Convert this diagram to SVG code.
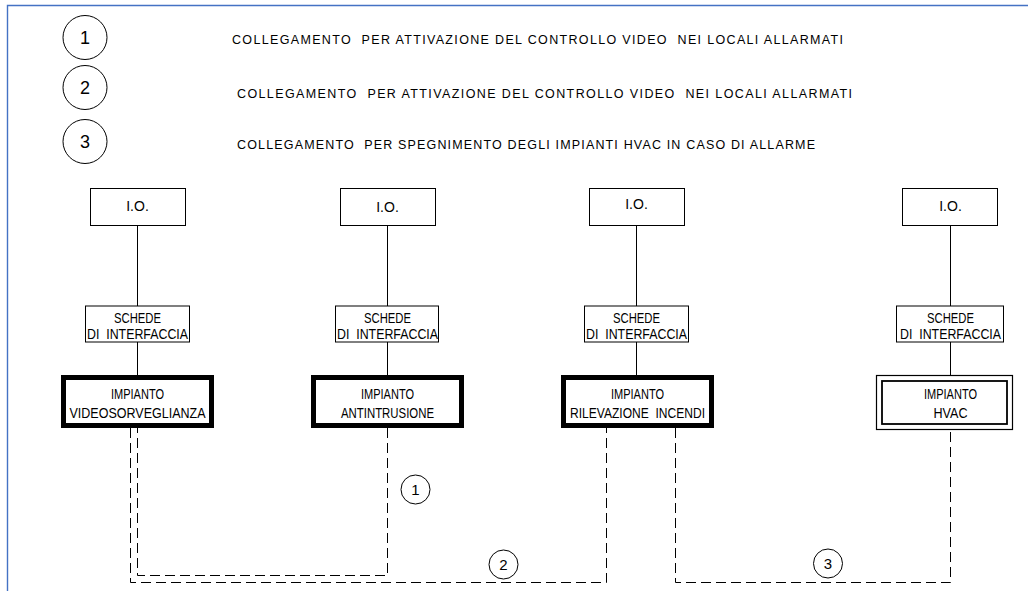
<svg xmlns="http://www.w3.org/2000/svg" width="1028" height="591" viewBox="0 0 1028 591">
<style>
.frame{fill:none;stroke:#4472C4;stroke-width:1.4}
.box{fill:#fff;stroke:#000;stroke-width:1}
.thick{fill:#fff;stroke:#000;stroke-width:5}
.dbl{fill:#fff;stroke:#000;stroke-width:1.2}
.dbl2{fill:none;stroke:#000;stroke-width:1.8}
.wire{stroke:#000;stroke-width:1;fill:none}
.dash{stroke:#000;stroke-width:1;fill:none;stroke-dasharray:10 5}
.circ{fill:#fff;stroke:#000;stroke-width:1}
.leg{font-family:"Liberation Sans",Arial,sans-serif;font-size:12.5px;fill:#000}
.lbl{font-family:"Liberation Sans",Arial,sans-serif;font-size:14px;fill:#000;text-anchor:middle}
.num{font-family:"Liberation Sans",Arial,sans-serif;fill:#000;text-anchor:middle}
</style>
<rect width="1028" height="591" fill="#fff"/>
<path class="frame" d="M7.5,591 V5.5 H1028"/>

<g id="legend">
  <circle class="circ" cx="85" cy="37.5" r="22"/>
  <text class="num" x="85" y="44" font-size="18">1</text>
  <circle class="circ" cx="85" cy="87.5" r="22"/>
  <text class="num" x="85" y="94" font-size="18">2</text>
  <circle class="circ" cx="85" cy="141.5" r="22"/>
  <text class="num" x="85" y="148" font-size="18">3</text>
  <text class="leg" x="232" y="44" textLength="611" lengthAdjust="spacing" xml:space="preserve">COLLEGAMENTO  PER ATTIVAZIONE DEL CONTROLLO VIDEO  NEI LOCALI ALLARMATI</text>
  <text class="leg" x="237" y="98" textLength="615" lengthAdjust="spacing" xml:space="preserve">COLLEGAMENTO  PER ATTIVAZIONE DEL CONTROLLO VIDEO  NEI LOCALI ALLARMATI</text>
  <text class="leg" x="237" y="149" textLength="578" lengthAdjust="spacing" xml:space="preserve">COLLEGAMENTO  PER SPEGNIMENTO DEGLI IMPIANTI HVAC IN CASO DI ALLARME</text>
</g>

<g id="connectors">
  <line class="wire" x1="137.5" y1="225" x2="137.5" y2="306"/>
  <line class="wire" x1="137.5" y1="342" x2="137.5" y2="375"/>
  <line class="wire" x1="387.5" y1="225" x2="387.5" y2="306"/>
  <line class="wire" x1="387.5" y1="342" x2="387.5" y2="375"/>
  <line class="wire" x1="636.5" y1="225" x2="636.5" y2="306"/>
  <line class="wire" x1="636.5" y1="342" x2="636.5" y2="375"/>
  <line class="wire" x1="950.5" y1="225" x2="950.5" y2="306"/>
  <line class="wire" x1="950.5" y1="342" x2="950.5" y2="375"/>
  <path class="dash" d="M387.5,428 V575.5 H137.5 V428"/>
  <path class="dash" d="M130.5,428 V582.5 H606.5 V428"/>
  <path class="dash" d="M675.5,428 V582.5 H950.5 V428"/>
  <circle class="circ" cx="415.5" cy="489.5" r="14.5"/>
  <text class="num" x="415.5" y="495" font-size="15">1</text>
  <circle class="circ" cx="503.5" cy="564.5" r="14.5"/>
  <text class="num" x="503.5" y="570" font-size="15">2</text>
  <circle class="circ" cx="828" cy="563.5" r="14.5"/>
  <text class="num" x="828" y="569" font-size="15">3</text>
</g>

<g id="io1"><rect class="box" x="90.5" y="188.5" width="95" height="37"/><text class="lbl" x="137.5" y="211">I.O.</text></g>
<g id="io2"><rect class="box" x="340.5" y="188.5" width="95" height="37"/><text class="lbl" x="387.5" y="211.5">I.O.</text></g>
<g id="io3"><rect class="box" x="589.5" y="188.5" width="95" height="37"/><text class="lbl" x="636.5" y="209" font-size="10">I.O.</text></g>
<g id="io4"><rect class="box" x="902.5" y="188.5" width="95" height="37"/><text class="lbl" x="950.5" y="211">I.O.</text></g>

<g id="sch1"><rect class="box" x="85.5" y="306" width="104" height="36"/>
  <text class="lbl" x="137.5" y="322.5" textLength="47" lengthAdjust="spacingAndGlyphs">SCHEDE</text>
  <text class="lbl" x="137.5" y="338.5" textLength="101" lengthAdjust="spacingAndGlyphs" xml:space="preserve">DI  INTERFACCIA</text></g>
<g id="sch2"><rect class="box" x="335.5" y="306" width="103" height="36"/>
  <text class="lbl" x="387.5" y="322.5" textLength="47" lengthAdjust="spacingAndGlyphs">SCHEDE</text>
  <text class="lbl" x="387.5" y="338.5" textLength="101" lengthAdjust="spacingAndGlyphs" xml:space="preserve">DI  INTERFACCIA</text></g>
<g id="sch3"><rect class="box" x="584.5" y="306" width="104" height="36"/>
  <text class="lbl" x="636.5" y="322.5" textLength="47" lengthAdjust="spacingAndGlyphs">SCHEDE</text>
  <text class="lbl" x="636.5" y="338.5" textLength="101" lengthAdjust="spacingAndGlyphs" xml:space="preserve">DI  INTERFACCIA</text></g>
<g id="sch4"><rect class="box" x="896.5" y="306" width="107" height="36"/>
  <text class="lbl" x="950.5" y="322.5" textLength="47" lengthAdjust="spacingAndGlyphs">SCHEDE</text>
  <text class="lbl" x="950.5" y="338.5" textLength="101" lengthAdjust="spacingAndGlyphs" xml:space="preserve">DI  INTERFACCIA</text></g>

<g id="imp1"><rect class="thick" x="63.5" y="377.5" width="148" height="48"/>
  <text class="lbl" x="137.5" y="398.5" textLength="53" lengthAdjust="spacingAndGlyphs">IMPIANTO</text>
  <text class="lbl" x="137.5" y="417.5" textLength="136" lengthAdjust="spacingAndGlyphs">VIDEOSORVEGLIANZA</text></g>
<g id="imp2"><rect class="thick" x="313.5" y="377.5" width="148" height="48"/>
  <text class="lbl" x="387.5" y="398.5" textLength="53" lengthAdjust="spacingAndGlyphs">IMPIANTO</text>
  <text class="lbl" x="387.5" y="417.5" textLength="93" lengthAdjust="spacingAndGlyphs">ANTINTRUSIONE</text></g>
<g id="imp3"><rect class="thick" x="563.5" y="377.5" width="148" height="48"/>
  <text class="lbl" x="637.5" y="398.5" textLength="53" lengthAdjust="spacingAndGlyphs">IMPIANTO</text>
  <text class="lbl" x="637.5" y="417.5" textLength="135" lengthAdjust="spacingAndGlyphs" xml:space="preserve">RILEVAZIONE  INCENDI</text></g>
<g id="imp4"><rect class="dbl" x="876.5" y="375.5" width="136" height="54"/>
  <rect class="dbl2" x="882" y="381" width="125" height="43"/>
  <text class="lbl" x="950.5" y="398.5" textLength="53" lengthAdjust="spacingAndGlyphs">IMPIANTO</text>
  <text class="lbl" x="950.5" y="417.5" textLength="34" lengthAdjust="spacingAndGlyphs">HVAC</text></g>
</svg>
